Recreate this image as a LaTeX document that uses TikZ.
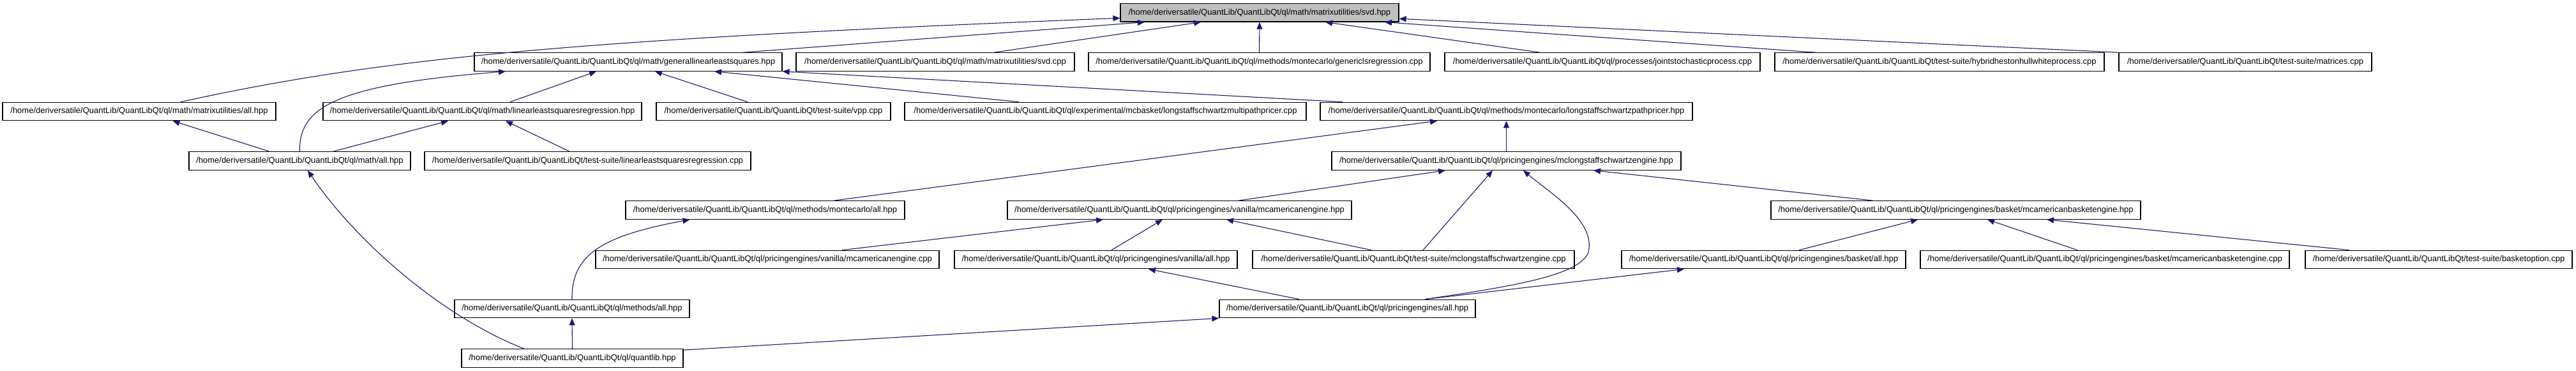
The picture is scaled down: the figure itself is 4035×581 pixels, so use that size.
\documentclass[tikz,border=0pt]{standalone}
\usepackage{fontspec}
\setmainfont{Liberation Sans}
\usepackage{tikz}
\usetikzlibrary{arrows.meta,calc}
\definecolor{edgeblue}{RGB}{25,25,112}
\definecolor{focusgray}{RGB}{191,191,191}

\begin{document}
\begin{tikzpicture}[x=1pt,y=-1pt,>={Triangle[length=11pt,width=9pt]},
  every node/.style={font=\fontsize{13}{15}\selectfont},
  file/.style={draw=black,line width=1.2pt,fill=white,minimum height=28.5pt,inner sep=0pt},
  dep/.style={->,draw=edgeblue,fill=none,line width=1.1pt}]
\useasboundingbox (0,0) rectangle (4035,581);
% row 0
\node[file,fill=focusgray,minimum width=436pt] (svd) at (1973,19.8) {/home/deriversatile/QuantLib/QuantLibQt/ql/math/matrixutilities/svd.hpp};
% row 1
\node[file,minimum width=482pt] (gls) at (984,97) {/home/deriversatile/QuantLib/QuantLibQt/ql/math/generallinearleastsquares.hpp};
\node[file,minimum width=436pt] (svdcpp) at (1465,97) {/home/deriversatile/QuantLib/QuantLibQt/ql/math/matrixutilities/svd.cpp};
\node[file,minimum width=535pt] (genls) at (1972.5,97) {/home/deriversatile/QuantLib/QuantLibQt/ql/methods/montecarlo/genericlsregression.cpp};
\node[file,minimum width=494pt] (joint) at (2510,97) {/home/deriversatile/QuantLib/QuantLibQt/ql/processes/jointstochasticprocess.cpp};
\node[file,minimum width=516pt] (hybrid) at (3038,97) {/home/deriversatile/QuantLib/QuantLibQt/test-suite/hybridhestonhullwhiteprocess.cpp};
\node[file,minimum width=396pt] (matrices) at (3517,97) {/home/deriversatile/QuantLib/QuantLibQt/test-suite/matrices.cpp};
% row 2
\node[file,minimum width=428pt] (mxall) at (218,174.5) {/home/deriversatile/QuantLib/QuantLibQt/ql/math/matrixutilities/all.hpp};
\node[file,minimum width=499pt] (llsrh) at (755.5,174.5) {/home/deriversatile/QuantLib/QuantLibQt/ql/math/linearleastsquaresregression.hpp};
\node[file,minimum width=367pt] (vpp) at (1211.5,174.5) {/home/deriversatile/QuantLib/QuantLibQt/test-suite/vpp.cpp};
\node[file,minimum width=629pt] (multi) at (1731.5,174.5) {/home/deriversatile/QuantLib/QuantLibQt/ql/experimental/mcbasket/longstaffschwartzmultipathpricer.cpp};
\node[file,minimum width=583pt] (lspp) at (2359.5,174.5) {/home/deriversatile/QuantLib/QuantLibQt/ql/methods/montecarlo/longstaffschwartzpathpricer.hpp};
% row 3
\node[file,minimum width=347pt] (mathall) at (469.5,252) {/home/deriversatile/QuantLib/QuantLibQt/ql/math/all.hpp};
\node[file,minimum width=511pt] (llsrcpp) at (920.5,252) {/home/deriversatile/QuantLib/QuantLibQt/test-suite/linearleastsquaresregression.cpp};
\node[file,minimum width=547pt] (mclse) at (2359.5,252) {/home/deriversatile/QuantLib/QuantLibQt/ql/pricingengines/mclongstaffschwartzengine.hpp};
% row 4
\node[file,minimum width=437pt] (mcall) at (1198.5,329) {/home/deriversatile/QuantLib/QuantLibQt/ql/methods/montecarlo/all.hpp};
\node[file,minimum width=539pt] (mcae) at (1847.5,329) {/home/deriversatile/QuantLib/QuantLibQt/ql/pricingengines/vanilla/mcamericanengine.hpp};
\node[file,minimum width=579pt] (mcabe) at (3063.5,329) {/home/deriversatile/QuantLib/QuantLibQt/ql/pricingengines/basket/mcamericanbasketengine.hpp};
% row 5
\node[file,minimum width=538pt] (mcaecpp) at (1202,406.5) {/home/deriversatile/QuantLib/QuantLibQt/ql/pricingengines/vanilla/mcamericanengine.cpp};
\node[file,minimum width=443pt] (vanall) at (1716.5,406.5) {/home/deriversatile/QuantLib/QuantLibQt/ql/pricingengines/vanilla/all.hpp};
\node[file,minimum width=504pt] (mclsecpp) at (2214,406.5) {/home/deriversatile/QuantLib/QuantLibQt/test-suite/mclongstaffschwartzengine.cpp};
\node[file,minimum width=445pt] (basall) at (2762.5,406.5) {/home/deriversatile/QuantLib/QuantLibQt/ql/pricingengines/basket/all.hpp};
\node[file,minimum width=578pt] (mcabecpp) at (3297,406.5) {/home/deriversatile/QuantLib/QuantLibQt/ql/pricingengines/basket/mcamericanbasketengine.cpp};
\node[file,minimum width=418pt] (basopt) at (3820,406.5) {/home/deriversatile/QuantLib/QuantLibQt/test-suite/basketoption.cpp};
% row 6
\node[file,minimum width=368pt] (methall) at (896,483.5) {/home/deriversatile/QuantLib/QuantLibQt/ql/methods/all.hpp};
\node[file,minimum width=401pt] (peall) at (2110.5,483.5) {/home/deriversatile/QuantLib/QuantLibQt/ql/pricingengines/all.hpp};
% row 7
\node[file,minimum width=347pt] (qlib) at (896.5,561) {/home/deriversatile/QuantLib/QuantLibQt/ql/quantlib.hpp};

% includes of svd.hpp
\draw[dep] ($(mxall.north)+(65,0)$) .. controls (600,90) and (900,62) .. ($(svd.west)+(0,8.5)$);
\draw[dep] ($(gls.north)+(180,0)$) -- ($(svd.south)+(-180,0)$);
\draw[dep] ($(svdcpp.north)+(92,0)$) -- ($(svd.south)+(-92,0)$);
\draw[dep] (genls.north) -- (svd.south);
\draw[dep] ($(joint.north)+(-98,0)$) -- ($(svd.south)+(103,0)$);
\draw[dep] ($(hybrid.north)+(-194,0)$) -- ($(svd.south)+(196,0)$);
\draw[dep] (matrices.north west) -- ($(svd.east)+(0,9.5)$);
% generallinearleastsquares.hpp
\draw[dep] ($(llsrh.north)+(43.5,0)$) -- ($(gls.south)+(-50,0)$);
\draw[dep] (mathall.north) .. controls (468,170) and (520,133) .. ($(gls.south)+(-192,0)$);
\draw[dep] ($(vpp.north)+(-40.5,0)$) -- ($(gls.south)+(42,0)$);
\draw[dep] ($(multi.north)+(-135.5,0)$) -- ($(gls.south)+(135,0)$);
\draw[dep] ($(lspp.north)+(-256.5,0)$) -- (gls.south east);
% math
\draw[dep] ($(mathall.north)+(-47.5,0)$) -- ($(mxall.south)+(52.5,0)$);
\draw[dep] ($(mathall.north)+(52.5,0)$) -- ($(llsrh.south)+(-53.5,0)$);
\draw[dep] ($(llsrcpp.north)+(-28.5,0)$) -- ($(llsrh.south)+(36.5,0)$);
% longstaffschwartzpathpricer.hpp
\draw[dep] ($(mcall.north)+(107.5,0)$) -- ($(lspp.south)+(-108.5,0)$);
\draw[dep] (mclse.north) -- (lspp.south);
% mclongstaffschwartzengine.hpp
\draw[dep] ($(mcae.north)+(92.5,0)$) -- ($(mclse.south)+(-95.5,0)$);
\draw[dep] ($(mclsecpp.north)+(15,0)$) -- ($(mclse.south)+(-21.5,0)$);
\draw[dep] ($(peall.north)+(121.5,0)$) .. controls (2380,447) and (2475,430) .. (2488,395)
  .. controls (2500,345) and (2425,300) .. ($(mclse.south)+(26.5,0)$);
\draw[dep] ($(mcabe.north)+(-129.5,0)$) -- ($(mclse.south)+(136.5,0)$);
% mcamericanengine.hpp
\draw[dep] ($(mcaecpp.north)+(117,0)$) -- ($(mcae.south)+(-119.5,0)$);
\draw[dep] ($(vanall.north)+(24.5,0)$) -- ($(mcae.south)+(-26.5,0)$);
\draw[dep] ($(mclsecpp.north)+(-66,0)$) -- ($(mcae.south)+(73.5,0)$);
% mcamericanbasketengine.hpp
\draw[dep] ($(basall.north)+(55.5,0)$) -- ($(mcabe.south)+(-59.5,0)$);
\draw[dep] ($(mcabecpp.north)+(-43,0)$) -- ($(mcabe.south)+(49.5,0)$);
\draw[dep] ($(basopt.north)+(-140,0)$) -- ($(mcabe.south)+(142.5,0)$);
% all.hpp headers
\draw[dep] (methall.north) .. controls (895,400) and (940,370) .. ($(mcall.south)+(-118,0)$);
\draw[dep] ($(peall.north)+(-75.5,0)$) -- ($(vanall.south)+(82.5,0)$);
\draw[dep] ($(peall.north)+(121.5,0)$) -- ($(basall.south)+(-124.5,0)$);
\draw[dep] ($(qlib.north)+(-75.5,0)$) .. controls (690,495) and (555,375) .. ($(mathall.south)+(12.5,0)$);
\draw[dep] (qlib.north) -- (methall.south);
\draw[dep] ($(qlib.north east)+(0,2)$) -- (peall.south west);
\end{tikzpicture}
\end{document}
